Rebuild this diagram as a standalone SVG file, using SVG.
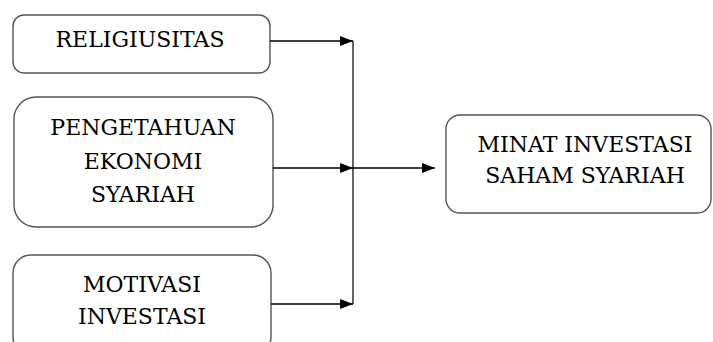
<svg xmlns="http://www.w3.org/2000/svg" width="713" height="342" viewBox="0 0 713 342">
<defs>
<style>
.box{fill:#fff;stroke:#555;stroke-width:1.4}
.t{font-family:'DejaVu Serif','Liberation Serif',serif;font-size:22px;fill:#000;text-anchor:middle}
.c{stroke:#000;stroke-width:1.5;fill:none}
</style>
<marker id="ah" viewBox="0 0 13 10" refX="13" refY="5" markerWidth="13" markerHeight="10" markerUnits="userSpaceOnUse" orient="auto">
<path d="M0,0 L13,5 L0,10 Z" fill="#000"/>
</marker>
</defs>
<rect width="713" height="342" fill="#fff"/>
<g id="religiusitas">
<rect class="box" x="13" y="15" width="257" height="58" rx="11"/>
<text class="t" x="140" y="47">RELIGIUSITAS</text>
</g>
<g id="pengetahuan">
<rect class="box" x="14" y="97" width="259" height="130" rx="22"/>
<text class="t" x="143" y="135">PENGETAHUAN</text>
<text class="t" x="143" y="169">EKONOMI</text>
<text class="t" x="143" y="202">SYARIAH</text>
</g>
<g id="motivasi">
<rect class="box" x="13" y="255" width="258" height="100" rx="18"/>
<text class="t" x="142" y="292">MOTIVASI</text>
<text class="t" x="142" y="324">INVESTASI</text>
</g>
<g id="minat">
<rect class="box" x="446" y="115" width="265" height="98" rx="14"/>
<text class="t" x="585" y="152">MINAT INVESTASI</text>
<text class="t" x="585" y="183">SAHAM SYARIAH</text>
</g>
<g id="connectors">
<line class="c" x1="270" y1="41" x2="353" y2="41" marker-end="url(#ah)"/>
<line class="c" x1="273" y1="168" x2="353" y2="168" marker-end="url(#ah)"/>
<line class="c" x1="271" y1="304" x2="353" y2="304" marker-end="url(#ah)"/>
<line class="c" x1="353" y1="41" x2="353" y2="304" style="stroke-width:1.2"/>
<line class="c" x1="353" y1="168" x2="435" y2="168" marker-end="url(#ah)"/>
</g>
</svg>
